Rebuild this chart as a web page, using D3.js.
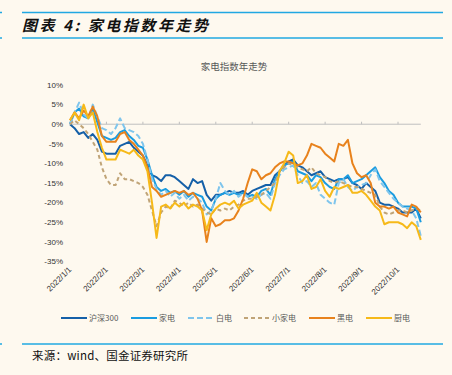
<!DOCTYPE html>
<html><head><meta charset="utf-8">
<script src="https://cdn.jsdelivr.net/npm/d3@7/dist/d3.min.js"></script>
<style>
html,body{margin:0;padding:0;background:#fef9ef;}
svg{display:block;}
</style></head>
<body>
<svg id="c" width="452" height="375"></svg>
<script>
// Tick labels (first trading period of each month), 8 samples per month
const monthLabels = ["2022/1/1","2022/2/1","2022/3/1","2022/4/1","2022/5/1","2022/6/1","2022/7/1","2022/8/1","2022/9/1","2022/10/1"];
const samplesPerMonth = 8;
const yTicks = [10,5,0,-5,-10,-15,-20,-25,-30,-35];
const seriesNames = ["沪深300","家电","白电","小家电","黑电","厨电"];

const hs300 = [0,-1,-2.5,-2,-3.5,-2.5,-4,-7,-7.5,-7.5,-7.5,-5.5,-5,-4.5,-6,-7,-8,-10.5,-13,-13.5,
  -14.5,-13,-13,-13.5,-14.5,-15.5,-16.5,-14,-15,-14.5,-18,-19.5,-18,-18,-17.5,-17,-17.5,-17.5,-17,-18,
  -17,-16.5,-16,-15.5,-15.5,-13,-12,-10.5,-9.5,-9,-10.5,-11,-12,-13,-12.5,-12,-13.5,-14,-14.5,-14,
  -14,-13.5,-15,-15.5,-16.5,-15,-16,-17,-20,-20.5,-20.5,-21,-21.5,-22.5,-22.5,-22.5,-21.5,-24];
const jiadian = [0,3,4,2,1.5,4,0.5,-3,-3.5,-4,-3.5,-2,-1.5,-3,-4,-5.5,-6,-9,-13,-16,
  -17,-16.5,-17.5,-17,-18,-17,-18.5,-17.5,-18,-18.5,-21,-22,-19,-18,-17.5,-18,-17.5,-18,-17.5,-18.5,
  -18,-18.5,-17,-16.5,-18,-14,-12,-10.5,-10,-9.5,-12,-12.5,-13,-14.5,-13,-13.5,-15,-16,-16.5,-14,
  -14,-13,-15,-14.5,-14,-13,-12,-11,-13.5,-15,-17,-18,-20,-21,-21,-21,-21.5,-25];
const baidian = [0,3,5.5,2.5,1.5,5,2,-1,-1.5,-2.5,-1,1.5,-1,-1.5,-2,-3,-5,-9,-14,-16.5,
  -18,-17,-18.5,-17.5,-19,-18,-19.5,-18.5,-19,-20,-23,-22,-19,-15,-17,-18,-17,-18.5,-17.5,-18.5,
  -18.5,-19,-18,-17.5,-19,-15,-13,-11.5,-11,-10.5,-13,-15,-14.5,-16,-15,-18,-19,-20,-20.5,-15,
  -14,-16,-17,-16,-15.5,-15,-13,-11.5,-14.5,-16,-17.5,-19,-20,-21,-21.5,-22,-24,-28.5];
const xiaojiadian = [0,1,0,-1,-2.5,-4.5,-6.5,-11,-14,-15.5,-15.5,-12.5,-14,-14,-14.5,-15,-16,-18,-22,-26,
  -22.5,-21,-21.5,-19.5,-20,-21,-20,-21,-20.5,-21.5,-22.5,-23,-21.5,-22,-21.5,-22,-21,-20.5,-19.5,-19,
  -19,-18.5,-18,-17,-16,-15,-12,-11,-10,-10.5,-11,-11.5,-12,-11,-12.5,-13,-13.5,-14.5,-15,-14.5,
  -15,-15.5,-16,-16,-16.5,-17,-17.5,-18,-21,-22.5,-23,-22.5,-22,-22,-22.5,-22,-21.5,-22];
const heidian = [1,3,1.5,3.5,2,4.5,2,-3,-4.5,-4.5,-4.5,-2.5,-2,-4,-5,-6.5,-8,-11,-16,-17,
  -18.5,-18,-17.5,-17,-17.5,-17,-18,-17.5,-19,-22,-30,-24,-26,-25.5,-24.5,-24.5,-24,-22,-19,-15,
  -11.5,-12,-14,-13,-12.5,-11,-10,-9.5,-9.5,-10,-10.5,-10,-8,-5,-5.5,-6,-7.5,-8.5,-9.5,-5,
  -5.5,-4,-10,-12.5,-13.5,-13,-15,-20,-21,-21,-21.5,-21,-22.5,-23,-23.5,-20.5,-21,-22.5];
const chudian = [1,3,1,5,1.5,3,-2,-6,-9,-9,-9,-6.5,-7,-7.5,-6.5,-8,-9,-12,-20,-29,
  -21,-20.5,-21.5,-20,-21,-20,-21.5,-20.5,-21,-22,-27,-23,-21.5,-20.5,-20,-20.5,-19.5,-21.5,-20.5,-20,
  -19.5,-17.5,-20,-21,-22,-18,-12,-10,-7,-8,-15,-14.5,-13,-16.5,-16,-14,-17,-18.5,-16,-16.5,
  -16,-15.5,-17.5,-17.5,-17,-18,-19.5,-21,-22,-25.5,-25,-25,-25,-25.5,-26.5,-25,-26,-29.5];

const seriesValues = [hs300, jiadian, baidian, xiaojiadian, heidian, chudian];
const colors = ["#1560a8","#1a9ce0","#7fc5ec","#c0a477","#e8821c","#f6b919"];
const dashes = [null, null, "6,3", "4,3", null, null];

const svg = d3.select("#c");
const W = 452, H = 375;

// Header
const blue = "#21a8e2";
[12.5, 38].forEach(y => {
  svg.append("line").attr("x1",22).attr("x2",443).attr("y1",y).attr("y2",y).attr("stroke",blue).attr("stroke-width",1.4);
  svg.append("line").attr("x1",0).attr("x2",2).attr("y1",y).attr("y2",y).attr("stroke",blue).attr("stroke-width",1.4);
});
svg.append("text").attr("x",22).attr("y",30.5)
  .attr("font-family","'Noto Sans CJK SC', sans-serif").attr("font-size",15)
  .attr("font-weight","bold").attr("font-style","italic").attr("fill","#111")
  .attr("textLength",186).attr("lengthAdjust","spacing")
  .text("图表 4: 家电指数年走势");

// Footer
svg.append("line").attr("x1",22).attr("x2",443).attr("y1",344).attr("y2",344).attr("stroke",blue).attr("stroke-width",1.4);
svg.append("line").attr("x1",0).attr("x2",2).attr("y1",344).attr("y2",344).attr("stroke",blue).attr("stroke-width",1.4);
svg.append("text").attr("x",32).attr("y",359.5)
  .attr("font-family","'Noto Sans CJK SC', sans-serif").attr("font-size",11.5).attr("fill","#111")
  .attr("textLength",156).attr("lengthAdjust","spacing")
  .text("来源：wind、国金证券研究所");

// Chart title
svg.append("text").attr("x",234).attr("y",69.5).attr("text-anchor","middle")
  .attr("font-family","'Noto Sans CJK SC', sans-serif").attr("font-size",9.5).attr("fill","#595959")
  .text("家电指数年走势");

// Scales
const nPts = hs300.length;
const x = d3.scaleLinear().domain([0, nPts - 1]).range([70, 420.8]);
const y = d3.scaleLinear().domain([-35, 10]).range([261.5, 85]);

// Y labels
svg.append("g").selectAll("text").data(yTicks).join("text")
  .attr("x",63).attr("y",d => y(d)).attr("dy","0.35em").attr("text-anchor","end")
  .attr("font-family","'Liberation Sans', Arial, sans-serif").attr("font-size",8).attr("fill","#333")
  .text(d => d + "%");

// Zero axis line with ticks
const monthIdx = monthLabels.map((d,i) => i * samplesPerMonth);
svg.append("line").attr("x1",x(0)).attr("x2",x(nPts-1)).attr("y1",y(0)).attr("y2",y(0))
  .attr("stroke","#bfbfbf").attr("stroke-width",1);
svg.append("g").selectAll("line").data(monthIdx).join("line")
  .attr("x1",d => x(d)).attr("x2",d => x(d)).attr("y1",y(0)).attr("y2",y(0)-2.5)
  .attr("stroke","#bfbfbf").attr("stroke-width",1);

// X labels at bottom
svg.append("g").selectAll("text").data(monthLabels).join("text")
  .attr("transform",(d,i) => `translate(${x(monthIdx[i]) + 2},${270}) rotate(-45)`)
  .attr("text-anchor","end")
  .attr("font-family","'Liberation Sans', Arial, sans-serif").attr("font-size",8).attr("fill","#333")
  .text(d => d);

// Lines
const line = d3.line().x((d,i) => x(i)).y(d => y(d));
const order = [0,1,2,3,4,5];
order.forEach(k => {
  svg.append("path").datum(seriesValues[k]).attr("d", line)
    .attr("fill","none").attr("stroke",colors[k]).attr("stroke-width",2)
    .attr("stroke-linejoin","round")
    .attr("stroke-dasharray", dashes[k]);
});

// Legend
const legX = [61,131,188,244,309,366];
const lg = svg.append("g");
seriesNames.forEach((n,k) => {
  lg.append("line").attr("x1",legX[k]).attr("x2",legX[k]+26).attr("y1",318).attr("y2",318)
    .attr("stroke",colors[k]).attr("stroke-width",2).attr("stroke-dasharray",dashes[k]);
  lg.append("text").attr("x",legX[k]+28).attr("y",318).attr("dy","0.35em")
    .attr("font-family","'Noto Sans CJK SC', sans-serif").attr("font-size",8).attr("fill","#595959")
    .text(n);
});
</script>
</body></html>
